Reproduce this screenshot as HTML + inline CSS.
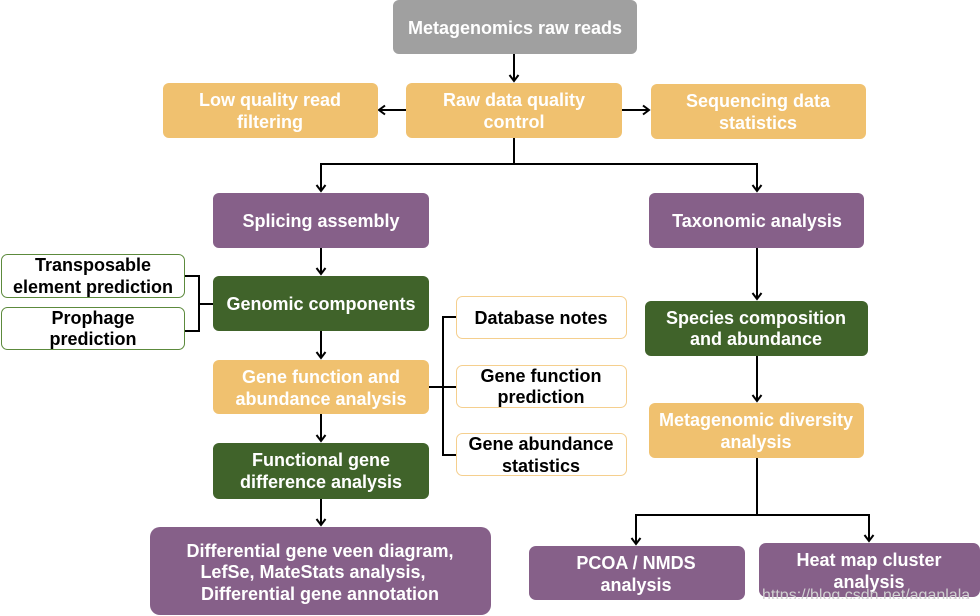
<!DOCTYPE html>
<html><head><meta charset="utf-8"><style>
html,body{margin:0;padding:0;background:#fff;}
svg{display:block;}
text{font-family:"Liberation Sans",Arial,sans-serif;font-weight:bold;font-size:18px;text-anchor:middle;}
.w{fill:#fff;}
.k{fill:#000;}
</style></head><body>
<svg width="980" height="616" viewBox="0 0 980 616" xmlns="http://www.w3.org/2000/svg">
<defs>
<marker id="a" markerWidth="12" markerHeight="12" refX="9" refY="6" orient="auto" markerUnits="userSpaceOnUse">
<path d="M3,1.5 L9,6 L3,10.5" fill="none" stroke="#000" stroke-width="2"/>
</marker>
</defs>
<g fill="none" stroke="#000" stroke-width="2">
<line x1="514" y1="54" x2="514" y2="81" marker-end="url(#a)"/>
<line x1="406" y1="110" x2="379" y2="110" marker-end="url(#a)"/>
<line x1="622" y1="110" x2="649" y2="110" marker-end="url(#a)"/>
<polyline points="514,137 514,164 321,164 321,191" marker-end="url(#a)"/>
<polyline points="514,164 757,164 757,191" marker-end="url(#a)"/>
<line x1="321" y1="248" x2="321" y2="274" marker-end="url(#a)"/>
<line x1="321" y1="331" x2="321" y2="358" marker-end="url(#a)"/>
<line x1="321" y1="414" x2="321" y2="441" marker-end="url(#a)"/>
<line x1="321" y1="499" x2="321" y2="525" marker-end="url(#a)"/>
<polyline points="185,276 199,276 199,331 185,331"/>
<line x1="199" y1="304" x2="213" y2="304"/>
<polyline points="457,317 443,317 443,455 457,455"/>
<line x1="428" y1="387" x2="457" y2="387"/>
<line x1="757" y1="248" x2="757" y2="299" marker-end="url(#a)"/>
<line x1="757" y1="356" x2="757" y2="401" marker-end="url(#a)"/>
<polyline points="757,458 757,515 636,515 636,544" marker-end="url(#a)"/>
<polyline points="757,515 869,515 869,541" marker-end="url(#a)"/>
</g>
<rect x="393" y="0" width="244" height="54" rx="6" fill="#a0a0a0"/>
<text class="w" x="515" y="34">Metagenomics raw reads</text>

<rect x="163" y="83" width="215" height="55" rx="6" fill="#f0c16f"/>
<text class="w" x="270" y="106">Low quality read</text><text class="w" x="270" y="128">filtering</text>
<rect x="406" y="83" width="216" height="55" rx="6" fill="#f0c16f"/>
<text class="w" x="514" y="106">Raw data quality</text><text class="w" x="514" y="128">control</text>
<rect x="651" y="84" width="215" height="55" rx="6" fill="#f0c16f"/>
<text class="w" x="758" y="107">Sequencing data</text><text class="w" x="758" y="129">statistics</text>

<rect x="213" y="193" width="216" height="55" rx="6" fill="#866089"/>
<text class="w" x="321" y="227">Splicing assembly</text>
<rect x="649" y="193" width="215" height="55" rx="6" fill="#866089"/>
<text class="w" x="757" y="227">Taxonomic analysis</text>

<rect x="1.5" y="254.5" width="183" height="43" rx="6" fill="#fff" stroke="#5c8a3c" stroke-width="1"/>
<text class="k" x="93" y="271">Transposable</text><text class="k" x="93" y="293">element prediction</text>
<rect x="1.5" y="307.5" width="183" height="42" rx="6" fill="#fff" stroke="#5c8a3c" stroke-width="1"/>
<text class="k" x="93" y="324">Prophage</text><text class="k" x="93" y="345">prediction</text>

<rect x="213" y="276" width="216" height="55" rx="6" fill="#40632a"/>
<text class="w" x="321" y="310">Genomic components</text>

<rect x="456.5" y="296.5" width="170" height="42" rx="6" fill="#fff" stroke="#f5cf8e" stroke-width="1"/>
<text class="k" x="541" y="324">Database notes</text>
<rect x="456.5" y="365.5" width="170" height="42" rx="6" fill="#fff" stroke="#f5cf8e" stroke-width="1"/>
<text class="k" x="541" y="382">Gene function</text><text class="k" x="541" y="403">prediction</text>
<rect x="456.5" y="433.5" width="170" height="42" rx="6" fill="#fff" stroke="#f5cf8e" stroke-width="1"/>
<text class="k" x="541" y="450">Gene abundance</text><text class="k" x="541" y="472">statistics</text>

<rect x="213" y="360" width="216" height="54" rx="6" fill="#f0c16f"/>
<text class="w" x="321" y="383">Gene function and</text><text class="w" x="321" y="405">abundance analysis</text>

<rect x="213" y="443" width="216" height="56" rx="6" fill="#40632a"/>
<text class="w" x="321" y="466">Functional gene</text><text class="w" x="321" y="488">difference analysis</text>

<rect x="150" y="527" width="341" height="88" rx="10" fill="#866089"/>
<text class="w" x="320" y="557">Differential gene veen diagram,</text>
<text class="w" x="313" y="578">LefSe, MateStats analysis,</text>
<text class="w" x="320" y="600">Differential gene annotation</text>

<rect x="645" y="301" width="223" height="55" rx="6" fill="#40632a"/>
<text class="w" x="756" y="324">Species composition</text><text class="w" x="756" y="345">and abundance</text>

<rect x="649" y="403" width="215" height="55" rx="6" fill="#f0c16f"/>
<text class="w" x="756" y="426">Metagenomic diversity</text><text class="w" x="756" y="448">analysis</text>

<rect x="529" y="546" width="216" height="54" rx="7" fill="#866089"/>
<text class="w" x="636" y="569">PCOA / NMDS</text><text class="w" x="636" y="591">analysis</text>

<rect x="759" y="543" width="221" height="54" rx="7" fill="#866089"/>
<text class="w" x="869" y="566">Heat map cluster</text><text class="w" x="869" y="588">analysis</text>
<svg x="759" y="584" width="221" height="15">
<text x="3" y="16" style="font-weight:normal;font-size:16px;fill:#d0d0d0;text-anchor:start;">https://blog.csdn.net/aganlala</text>
</svg>
</svg>
</body></html>
